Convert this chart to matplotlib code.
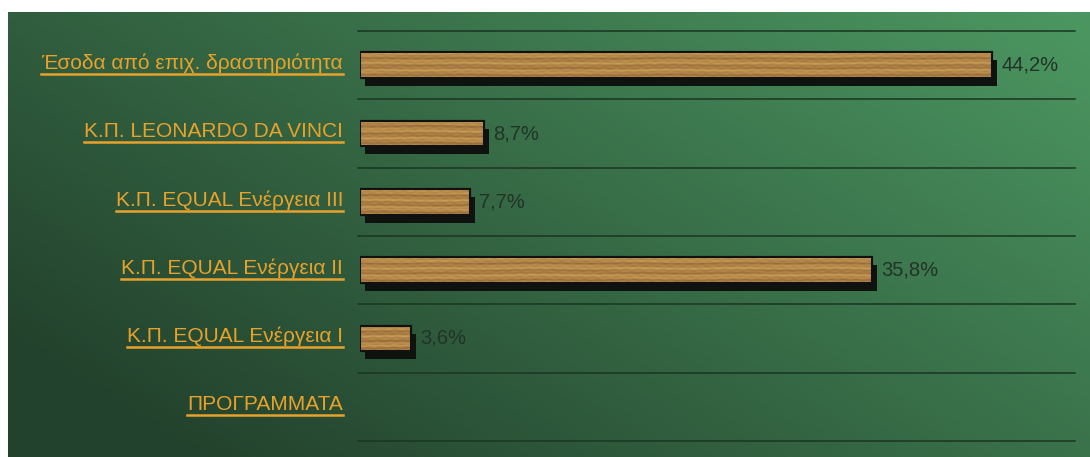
import numpy as np
import matplotlib
matplotlib.use("Agg")
import matplotlib.pyplot as plt
from matplotlib.patches import Rectangle

categories = ["Έσοδα από επιχ. δραστηριότητα", "Κ.Π. LEONARDO DA VINCI",
              "Κ.Π. EQUAL Ενέργεια ΙΙΙ", "Κ.Π. EQUAL Ενέργεια ΙΙ",
              "Κ.Π. EQUAL Ενέργεια Ι", "ΠΡΟΓΡΑΜΜΑΤΑ"]
values = [44.2, 8.7, 7.7, 35.8, 3.6, None]
value_labels = ["44,2%", "8,7%", "7,7%", "35,8%", "3,6%", ""]

plt.rcParams['font.family'] = ['Liberation Sans', 'DejaVu Sans']

W, H = 1090, 457
fig = plt.figure(figsize=(W / 100, H / 100), dpi=100, facecolor="white")

# green gradient panel
bg = fig.add_axes([8 / W, 0, 1 - 8 / W, (H - 12) / H])
gx = np.linspace(0, 1, 300)
gy = np.linspace(0, 1, 150)
XX, YY = np.meshgrid(gx, gy)
t = np.clip(0.7 * XX + 0.45 * (1 - YY) - 0.12, 0, 1)[..., None]
dark = np.array([0x23, 0x42, 0x2d]) / 255
light = np.array([0x4b, 0x95, 0x60]) / 255
bg.imshow(dark + (light - dark) * t, aspect="auto", extent=[0, 1, 0, 1], origin="upper")
bg.set_axis_off()

# main axes
x0, x1 = 360, 1075
ytop, ybot = 31, 441
ax = fig.add_axes([x0 / W, (H - ybot) / H, (x1 - x0) / W, (ybot - ytop) / H])
ax.set_facecolor("none")
ax.set_xlim(0, 50)
n = len(categories)
ax.set_ylim(n - 0.5, -0.5)
for s in ax.spines.values():
    s.set_visible(False)
ax.set_xticks([])
ax.set_yticks([])
for k in range(n + 1):
    ax.axhline(k - 0.5, xmin=-0.003, xmax=1, color="#1b3522", lw=1.1, clip_on=False)

bh = 0.38
px_x = 50 / (x1 - x0)
px_y = n / (ybot - ytop)

light_w = np.array([0xcc, 0x9e, 0x58]) / 255
dark_w = np.array([0x96, 0x6b, 0x38]) / 255


def wood_texture(length, seed_shift):
    # deterministic wood-grain decoration, same scale on every bar
    tw = max(int(length * 14), 10)
    tx = np.arange(tw) / 14.0
    ty = np.linspace(0, 1, 26)
    TX, TY = np.meshgrid(tx + seed_shift, ty)
    grain = (0.5 * np.sin(TY * 19 + 0.6 * np.sin(TX * 0.35))
             + 0.3 * np.sin(TY * 47 + 0.8 * np.sin(TX * 0.9 + 1.0))
             + 0.2 * np.sin(TX * 7.3 + TY * 5) * np.sin(TY * 31))
    g = ((grain - grain.min()) / (grain.max() - grain.min()))[..., None]
    return dark_w + (light_w - dark_w) * g


for i, v in enumerate(values):
    if v is None:
        continue
    ax.barh(i + 8 * px_y, v, left=5 * px_x, height=bh, color="#0e130f", zorder=2)
    bars = ax.barh(i, v, height=bh, color="#b88a4c", edgecolor="#111111", lw=1.5, zorder=3)
    im = ax.imshow(wood_texture(v, i * 3.1), extent=[0, v, i + bh / 2, i - bh / 2],
                   aspect="auto", interpolation="bilinear", zorder=3.5)
    im.set_clip_path(bars.patches[0])
    ax.add_patch(Rectangle((0, i - bh / 2), v, bh, fill=False, edgecolor="#111111", lw=1.5, zorder=4))
    ax.text(v + 9 * px_x, i, value_labels[i], ha="left", va="center", fontsize=14.5,
            color="#223328", zorder=5)

label_color = "#e8a22c"
texts = []
for i, c in enumerate(categories):
    texts.append(ax.text(-17 * px_x, i - 0.03, c, ha="right", va="center", fontsize=15,
                         color=label_color, clip_on=False))

fig.canvas.draw()
r = fig.canvas.get_renderer()
for tt in texts:
    bb = tt.get_window_extent(renderer=r)
    yb = bb.y0 - 1
    fig.add_artist(plt.Line2D([bb.x0 / W, bb.x1 / W], [yb / H, yb / H],
                              color=label_color, lw=1.8, transform=fig.transFigure))

fig.savefig("out.png", dpi=100, facecolor="white")
